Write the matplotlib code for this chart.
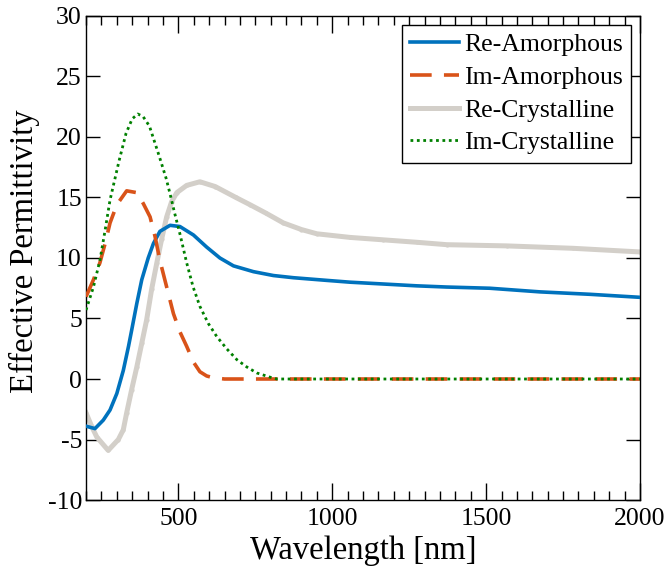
import matplotlib
matplotlib.use("Agg")
import matplotlib.pyplot as plt
from matplotlib.ticker import MultipleLocator, FixedLocator

plt.rcParams['font.family'] = ['Liberation Serif', 'DejaVu Serif']
plt.rcParams['axes.unicode_minus'] = False

# Re-Amorphous
wl_ra = [200, 229, 256, 278, 300, 321, 338, 348, 365, 381, 402, 419, 440, 473, 505, 549, 592,
         635, 679, 744, 809, 874, 982, 1058, 1166, 1274, 1372, 1512, 1675, 1837, 2000]
re_am = [-3.9, -4.1, -3.4, -2.56, -1.2, 0.7, 2.7, 4.0, 6.25, 8.2, 10.0, 11.2, 12.2, 12.7, 12.6,
         11.9, 10.9, 10.0, 9.35, 8.87, 8.55, 8.37, 8.15, 8.0, 7.85, 7.7, 7.6, 7.5, 7.2, 7.0, 6.75]

# Im-Amorphous
wl_ia = [200, 224, 245, 262, 278, 300, 332, 365, 386, 408, 424, 440, 462, 484, 505, 527, 549,
         570, 592, 614, 650, 700, 2000]
im_am = [6.8, 8.2, 9.6, 11.2, 12.9, 14.4, 15.55, 15.4, 14.5, 13.4, 11.8, 9.8, 7.6, 5.4, 3.9,
         2.7, 1.4, 0.6, 0.25, 0.1, 0.0, 0.0, 0.0]

# Re-Crystalline
wl_rc = [200, 218, 235, 272, 305, 321, 332, 348, 365, 381, 397, 413, 430, 446, 462, 478, 495,
         527, 570, 620, 687, 733, 785, 841, 900, 950, 1058, 1166, 1274, 1372, 1567, 1783, 2000]
re_cr = [-2.8, -3.9, -4.8, -5.9, -5.0, -4.2, -2.8, -0.9, 1.0, 2.95, 4.9, 7.4, 9.6, 11.6, 13.4,
         14.65, 15.4, 16.0, 16.3, 15.9, 15.0, 14.4, 13.7, 12.9, 12.35, 12.0, 11.7, 11.5, 11.3,
         11.1, 11.0, 10.8, 10.5]

# Im-Crystalline
wl_ic = [200, 224, 245, 262, 278, 308, 330, 350, 368, 385, 406, 438, 460, 473, 487, 505, 527,
         548, 570, 597, 625, 657, 690, 722, 755, 798, 820, 2000]
im_cr = [5.7, 7.6, 9.8, 12.3, 14.8, 18.1, 20.3, 21.5, 21.9, 21.7, 20.9, 18.4, 16.6, 15.3, 13.8,
         12.0, 9.6, 7.6, 6.0, 4.6, 3.5, 2.5, 1.6, 1.0, 0.5, 0.15, 0.0, 0.0]

xticks = [500, 1000, 1500, 2000]
yticks = [-10, -5, 0, 5, 10, 15, 20, 25, 30]

fig = plt.figure(figsize=(6.67, 5.81), dpi=100)
ax = fig.add_axes([0.129, 0.1394, 0.8305, 0.8331])

ax.plot(wl_ra, re_am, color='#0072BD', lw=2.6, label='Re-Amorphous', zorder=3)
ax.plot(wl_ia, im_am, color='#D95319', lw=2.6, dashes=(6.0, 3.4), label='Im-Amorphous', zorder=4)
ax.plot(wl_rc, re_cr, color='#D3CFC9', lw=3.6, marker='.', markersize=4,
        label='Re-Crystalline', zorder=2)
ax.plot(wl_ic, im_cr, color='#008000', lw=2.0, dashes=(1.0, 1.3), label='Im-Crystalline', zorder=5)

ax.set_xlim(200, 2000)
ax.set_ylim(-10, 30)
ax.xaxis.set_major_locator(FixedLocator(xticks))
ax.xaxis.set_minor_locator(MultipleLocator(50))
ax.yaxis.set_major_locator(FixedLocator(yticks))
ax.tick_params(which='both', direction='in', top=True, right=True, labelsize=18.5, width=1.0)
ax.tick_params(axis='x', which='major', length=12, pad=5.5)
ax.tick_params(axis='x', which='minor', length=6.5)
ax.tick_params(axis='y', which='major', length=10, pad=3)
for s in ax.spines.values():
    s.set_linewidth(1.0)

ax.set_xlabel('Wavelength [nm]', fontsize=23.5, labelpad=4)
ax.set_ylabel('Effective Permittivity', fontsize=23.5)
ax.yaxis.set_label_coords(-0.084, 0.515)

leg = ax.legend(loc='upper right', fontsize=18.5, frameon=True, fancybox=False,
                edgecolor='black', framealpha=1, borderaxespad=0.35,
                handlelength=1.9, labelspacing=0.38, borderpad=0.32, handletextpad=0.2)
leg.get_frame().set_linewidth(1.0)

fig.savefig('out.png', dpi=100)
